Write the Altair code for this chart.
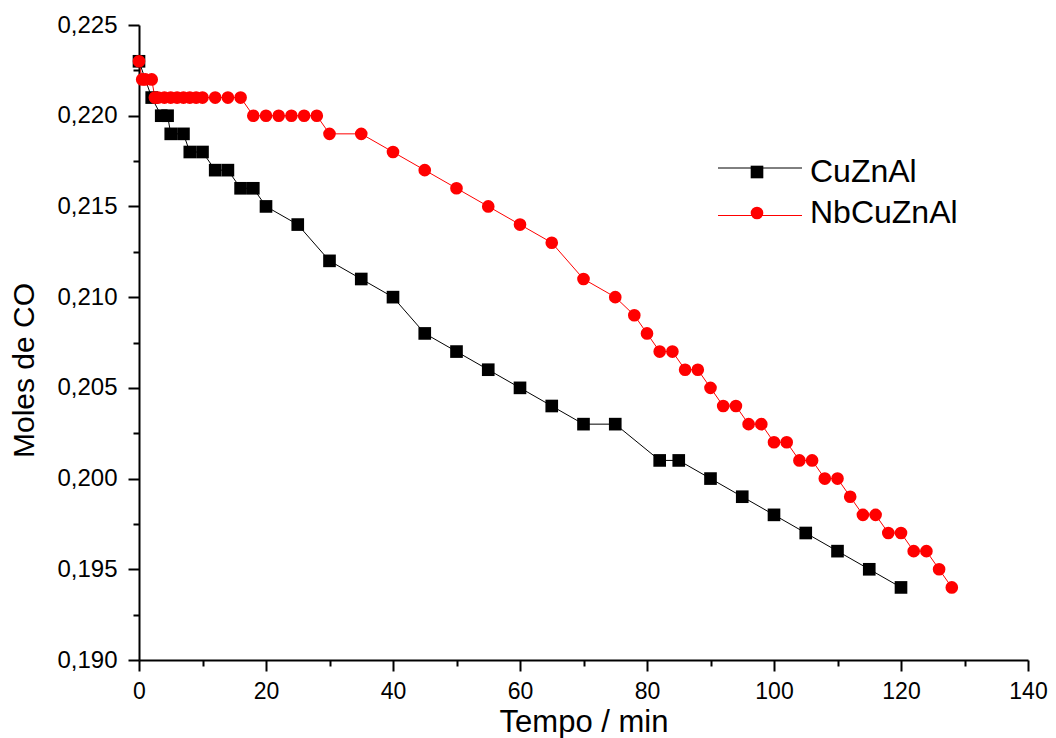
import altair as alt
import pandas as pd

# ---- data ----
series_names = ["CuZnAl", "NbCuZnAl"]

cu_time = [0, 2, 3.5, 4.5, 5, 7, 8, 10, 12, 14, 16, 18, 20, 25, 30, 35, 40, 45,
           50, 55, 60, 65, 70, 75, 82, 85, 90, 95, 100, 105, 110, 115, 120]
cu_moles = [0.223, 0.221, 0.220, 0.220, 0.219, 0.219, 0.218, 0.218, 0.217, 0.217,
            0.216, 0.216, 0.215, 0.214, 0.212, 0.211, 0.210, 0.208, 0.207, 0.206,
            0.205, 0.204, 0.203, 0.203, 0.201, 0.201, 0.200, 0.199, 0.198, 0.197,
            0.196, 0.195, 0.194]

nb_time = [0, 0.5, 1, 2, 2.5, 3, 4, 5, 6, 7, 8, 9, 10, 12, 14, 16, 18, 20, 22, 24,
           26, 28, 30, 35, 40, 45, 50, 55, 60, 65, 70, 75, 78, 80, 82, 84, 86, 88,
           90, 92, 94, 96, 98, 100, 102, 104, 106, 108, 110, 112, 114, 116, 118,
           120, 122, 124, 126, 128]
nb_moles = [0.223, 0.222, 0.222, 0.222,
            0.221, 0.221, 0.221, 0.221, 0.221, 0.221, 0.221, 0.221, 0.221, 0.221, 0.221, 0.221,
            0.220, 0.220, 0.220, 0.220, 0.220, 0.220,
            0.219, 0.219, 0.218, 0.217, 0.216, 0.215, 0.214, 0.213, 0.211, 0.210,
            0.209, 0.208,
            0.207, 0.207, 0.206, 0.206, 0.205, 0.204, 0.204, 0.203, 0.203, 0.202,
            0.202, 0.201, 0.201, 0.200, 0.200, 0.199, 0.198, 0.198, 0.197, 0.197,
            0.196, 0.196, 0.195, 0.194]

series_colors = ["#000000", "#ff0000"]
series_shapes = ["square", "circle"]

x_major = [0, 20, 40, 60, 80, 100, 120, 140]
x_minor = [10, 30, 50, 70, 90, 110, 130]
y_major = [0.190, 0.195, 0.200, 0.205, 0.210, 0.215, 0.220, 0.225]
y_minor = [0.1925, 0.1975, 0.2025, 0.2075, 0.2125, 0.2175, 0.2225]

rows = []
for t, m in zip(cu_time, cu_moles):
    rows.append({"t": t, "moles": m, "sl": series_names[0], "sp": series_names[0]})
for t, m in zip(nb_time, nb_moles):
    rows.append({"t": t, "moles": m, "sl": series_names[1], "sp": series_names[1]})
df = pd.DataFrame(rows)

FONT = "Liberation Sans"

xscale = alt.Scale(domain=[0, 140], nice=False, zero=False)
yscale = alt.Scale(domain=[0.19, 0.225], nice=False, zero=False)

x_axis_major = alt.Axis(values=x_major, orient="bottom", title="Tempo / min",
                        tickSize=11, labelPadding=9, titlePadding=4, grid=False,
                        labelFlush=False, labelFontSize=23, titleFontSize=31)
y_axis_major = alt.Axis(values=y_major, orient="left", title="Moles de CO",
                        tickSize=11, labelPadding=11, titlePadding=17, grid=False,
                        labelFlush=False, labelFontSize=24, titleFontSize=30,
                        titleY=345,
                        labelExpr="replace(format(datum.value, '.3f'), '.', ',')")
x_axis_minor = alt.Axis(values=x_minor, orient="bottom", title=None, labels=False,
                        domain=False, tickSize=6, grid=False)
y_axis_minor = alt.Axis(values=y_minor, orient="left", title=None, labels=False,
                        domain=False, tickSize=6, grid=False)

legend_common = dict(orient="none", title=None, labelFont=FONT, labelFontSize=32,
                     labelColor="#000000", padding=0)

# legend of the connecting lines (labels left empty, the marker legend carries them)
lines = alt.Chart(df).mark_line(strokeWidth=1).encode(
    x=alt.X("t:Q", scale=xscale, axis=x_axis_major),
    y=alt.Y("moles:Q", scale=yscale, axis=y_axis_major),
    color=alt.Color("sl:N", scale=alt.Scale(range=series_colors),
                    legend=alt.Legend(symbolType="M-4.2,0H4.2", symbolSize=400,
                                      symbolStrokeWidth=1, labelExpr="''",
                                      legendX=605, legendY=127, labelOffset=39,
                                      rowPadding=15.5, **legend_common)),
)

points = alt.Chart(df).mark_point(filled=True, size=160, opacity=1).encode(
    x=alt.X("t:Q", scale=xscale, axis=x_axis_minor),
    y=alt.Y("moles:Q", scale=yscale, axis=y_axis_minor),
    shape=alt.Shape("sp:N", scale=alt.Scale(range=series_shapes),
                    legend=alt.Legend(symbolSize=160, legendX=602, legendY=131,
                                      labelOffset=37, rowPadding=9, **legend_common)),
    fill=alt.Fill("sp:N", scale=alt.Scale(range=series_colors),
                  legend=alt.Legend(symbolSize=160, legendX=602, legendY=131,
                                    labelOffset=37, rowPadding=9, **legend_common)),
)

chart = alt.layer(lines, points).resolve_axis(
    x="independent", y="independent"
).properties(
    width=889, height=635,
    autosize=alt.AutoSizeParams(type="none"),
    padding={"left": 131, "top": 17, "right": 20, "bottom": 80},
).configure_view(strokeWidth=0).configure_axis(
    labelFont=FONT, titleFont=FONT, labelColor="#000000", titleColor="#000000",
    titleFontWeight="normal", domainColor="#000000", tickColor="#000000",
    domainWidth=2, tickWidth=2,
)

chart.save("out.html", embed_options={"renderer": "svg", "actions": False})
